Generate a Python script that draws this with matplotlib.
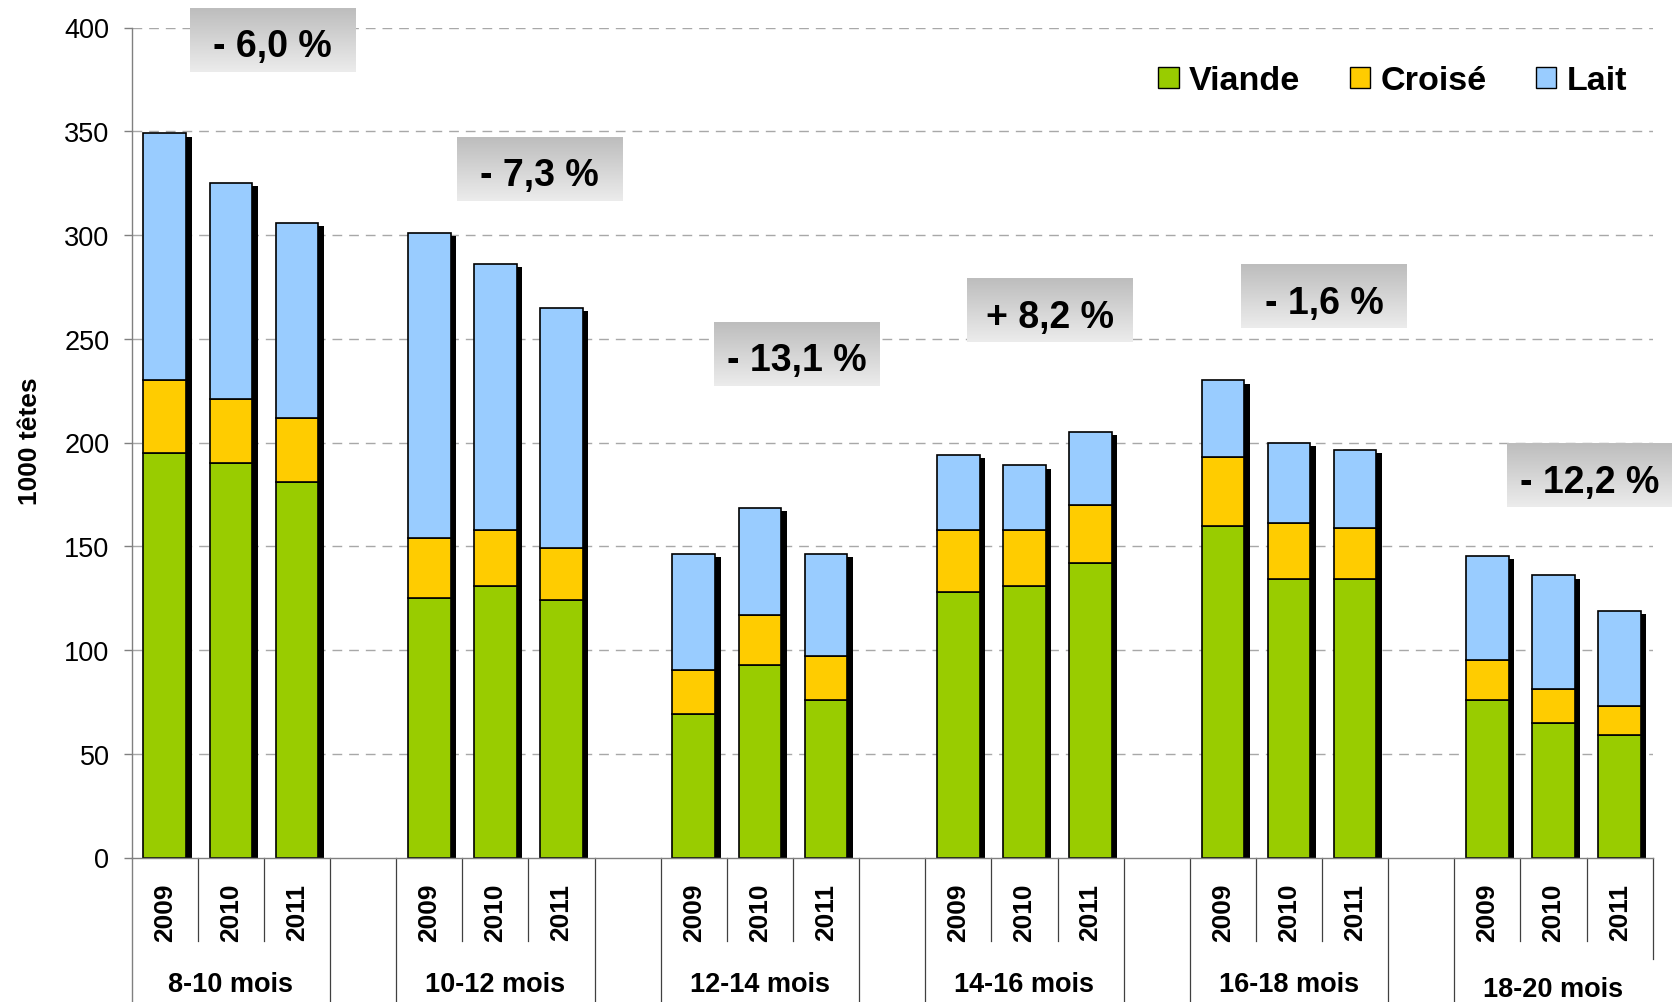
import numpy as np
import matplotlib
matplotlib.use("Agg")
import matplotlib.pyplot as plt
from matplotlib.patches import Rectangle
from matplotlib.colors import LinearSegmentedColormap

plt.rcParams['font.family'] = ['Liberation Sans', 'DejaVu Sans']

# donnees (1000 tetes)
groupes = ['8-10 mois', '10-12 mois', '12-14 mois', '14-16 mois', '16-18 mois', '18-20 mois']
annees = ['2009', '2010', '2011']
viande = [195, 190, 181, 125, 131, 124, 69, 93, 76, 128, 131, 142, 160, 134, 134, 76, 65, 59]
croise = [35, 31, 31, 29, 27, 25, 21.5, 24, 21, 30, 27, 28, 33, 27, 25, 19, 16, 14]
lait = [119, 104, 94, 147, 128, 116, 56, 51.5, 49.5, 36, 31, 35, 37, 39, 37.5, 50.5, 55, 46]
variations = ['- 6,0 %', '- 7,3 %', '- 13,1 %', '+ 8,2 %', '- 1,6 %', '- 12,2 %']

# position des encadres (centre x en slots, centre y en 1000 tetes)
pos_var = [(1.63, 394), (5.67, 331.7), (9.56, 242.7), (13.38, 263.7), (17.53, 270.4), (21.54, 184.2)]

col_v, col_c, col_l = '#99CC00', '#FFCC00', '#99CCFF'

fig = plt.figure(figsize=(16.72, 10.03), dpi=100)
ax = fig.add_axes([131.7 / 1672, 144.5 / 1003, 1521 / 1672, 830 / 1003])

n = len(groupes)
x = np.array([g * 4 + j for g in range(n) for j in range(3)], dtype=float)
v = np.array(viande)
c = np.array(croise)
l = np.array(lait)
tot = v + c + l

w = 0.645
# ombres
ax.bar(x + 0.083, tot - 1.6, width=w, color='black', zorder=2)
ax.bar(x, v, width=w, color=col_v, edgecolor='black', linewidth=1.2, zorder=3)
ax.bar(x, c, bottom=v, width=w, color=col_c, edgecolor='black', linewidth=1.2, zorder=3)
ax.bar(x, l, bottom=v + c, width=w, color=col_l, edgecolor='black', linewidth=1.2, zorder=3)

ax.set_xlim(-0.5, 22.5)
ax.set_ylim(0, 400)
ax.set_yticks(np.arange(0, 401, 50))
ax.tick_params(axis='y', direction='out', length=6, width=1, color='#808080',
               labelsize=19.5, pad=10)
ax.set_xticks([])
for s in ['top', 'right']:
    ax.spines[s].set_visible(False)
ax.spines['left'].set_color('#808080')
ax.spines['bottom'].set_color('#808080')
ax.spines['left'].set_linewidth(1)
ax.spines['bottom'].set_linewidth(1)
ax.spines['left'].set_zorder(5)
ax.spines['bottom'].set_zorder(5)

for yv in range(50, 401, 50):
    ax.axhline(yv, color='#a8a8a8', linewidth=1, linestyle=(0, (7, 5)), zorder=1)

fig.text(30 / 1672, 1 - 441 / 1003, '1000 têtes', rotation=90, ha='center', va='center',
         fontsize=19, fontweight='bold')

# axe des categories a deux niveaux
tr = ax.get_xaxis_transform()
longues = [2.5, 3.5, 6.5, 7.5, 10.5, 11.5, 14.5, 15.5, 18.5, 19.5]
courtes = [0.5, 1.5, 4.5, 5.5, 8.5, 9.5, 12.5, 13.5, 16.5, 17.5, 20.5, 21.5]
ax.plot([-0.5, -0.5], [0, -0.18], transform=tr, color='#808080', lw=1, clip_on=False)
for xs in longues:
    ax.plot([xs, xs], [0, -0.18], transform=tr, color='#404040', lw=0.9, clip_on=False)
for xs in courtes:
    ax.plot([xs, xs], [0, -0.1006], transform=tr, color='#404040', lw=0.9, clip_on=False)
ax.plot([22.5, 22.5], [0, -0.122], transform=tr, color='#404040', lw=0.9, clip_on=False)

for i, xi in enumerate(x):
    ax.text(xi, -0.065, annees[i % 3], transform=tr, rotation=90, ha='center', va='center',
            fontsize=19, fontweight='bold')
for g in range(n):
    yb = -0.1608 if g < n - 1 else -0.1665
    ax.text(g * 4 + 1, yb, groupes[g], transform=tr, ha='center', va='baseline',
            fontsize=19.5, fontweight='bold')

# encadres de variation avec degrade
cmap = LinearSegmentedColormap.from_list('grad', ['#bdbdbd', '#ececec'])
grad = np.linspace(0, 1, 100).reshape(-1, 1)
for lab, (xc, yc) in zip(variations, pos_var):
    bw, bh = 2.5, 30.8
    ax.imshow(grad, extent=[xc - bw / 2, xc + bw / 2, yc - bh / 2, yc + bh / 2],
              cmap=cmap, aspect='auto', origin='upper', zorder=4, clip_on=False)
    ax.text(xc, yc - 3, lab, ha='center', va='center', fontsize=27, fontweight='bold',
            zorder=6, clip_on=False)
ax.set_xlim(-0.5, 22.5)
ax.set_ylim(0, 400)

# legende
handles = [Rectangle((0, 0), 1, 1, facecolor=col, edgecolor='black', linewidth=1)
           for col in (col_v, col_c, col_l)]
leg = fig.legend(handles, ['Viande', 'Croisé', 'Lait'], ncol=3, frameon=False,
                 loc='center left', bbox_to_anchor=(1158 / 1672, 1 - 82 / 1003),
                 prop={'size': 24.6, 'weight': 'bold'}, handlelength=0.6, handleheight=0.6,
                 handletextpad=0.3, columnspacing=1.45, borderpad=0, borderaxespad=0)

fig.savefig('out.png', dpi=100)
